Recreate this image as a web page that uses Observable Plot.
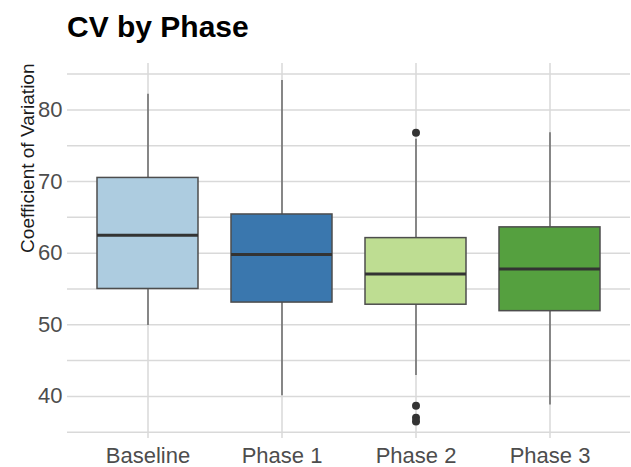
<!DOCTYPE html>
<html>
<head>
<meta charset="utf-8">
<script src="https://cdn.jsdelivr.net/npm/d3@7"></script>
<script src="https://cdn.jsdelivr.net/npm/@observablehq/plot@0.6"></script>
<style>
  body { margin: 0; background: #fff; font-family: "Liberation Sans", Arial, sans-serif; }
  #title { box-sizing: border-box; height: 50px; padding: 12px 0 0 67px; font-size: 30px; line-height: 30px; font-weight: bold; color: #000; }
</style>
</head>
<body>
<div id="title">CV by Phase</div>
<div id="chart"></div>
<script>
const categories = ["Baseline", "Phase 1", "Phase 2", "Phase 3"];
const whiskerLow  = [49.9, 40.1, 42.9, 38.8];
const q1          = [55.0, 53.1, 52.8, 51.9];
const medians     = [62.5, 59.8, 57.1, 57.8];
const q3          = [70.5, 65.4, 62.1, 63.6];
const whiskerHigh = [82.2, 84.1, 75.9, 76.8];
const outlierPhase  = ["Phase 2", "Phase 2", "Phase 2", "Phase 2"];
const outlierValues = [76.8, 38.7, 37.0, 36.5];
const fills = ["#adcce0", "#3a77ae", "#bedd92", "#55a03f"];
const yTicks = [40, 50, 60, 70, 80];
const yGrid = [35, 40, 45, 50, 55, 60, 65, 70, 75, 80, 85];
const yTitle = "Coefficient of Variation";

const boxes = categories.map((c, i) => ({
  phase: c, lo: whiskerLow[i], q1: q1[i], med: medians[i], q3: q3[i], hi: whiskerHigh[i]
}));
const outliers = outlierPhase.map((p, i) => ({ phase: p, value: outlierValues[i] }));

const allVals = [...whiskerLow, ...whiskerHigh, ...outlierValues];
const vmin = d3.min(allVals), vmax = d3.max(allVals);
const pad = (vmax - vmin) * 0.05;

const chart = Plot.plot({
  width: 631,
  height: 417,
  marginTop: 13,
  marginBottom: 29,
  marginLeft: 67,
  marginRight: 1,
  style: { fontFamily: "Liberation Sans, Arial, sans-serif", background: "#fff" },
  x: { domain: categories, type: "band", paddingInner: 0.25, paddingOuter: 0.225, axis: null },
  y: { domain: [vmin - pad, vmax + pad], axis: null },
  color: { domain: categories, range: fills },
  marks: [
    Plot.gridY(yGrid, { stroke: "#d9d9d9", strokeOpacity: 1, strokeWidth: 1.5 }),
    Plot.gridX(categories, { stroke: "#d9d9d9", strokeOpacity: 1, strokeWidth: 1.5 }),
    Plot.ruleX(boxes, { x: "phase", y1: "q3", y2: "hi", stroke: "#555", strokeWidth: 1.3 }),
    Plot.ruleX(boxes, { x: "phase", y1: "lo", y2: "q1", stroke: "#555", strokeWidth: 1.3 }),
    Plot.barY(boxes, { x: "phase", y1: "q1", y2: "q3", fill: "phase", stroke: "#4d4d4d", strokeWidth: 1.5 }),
    Plot.tickY(boxes, { x: "phase", y: "med", stroke: "#333", strokeWidth: 3 }),
    Plot.dot(outliers, { x: "phase", y: "value", r: 4, fill: "#333", stroke: null }),
    Plot.axisX({ tickSize: 0, tickPadding: 9, fontSize: 22, fill: "#4d4d4d", label: null }),
    Plot.axisY(yTicks, { tickSize: 0, tickPadding: 5, fontSize: 22, fill: "#4d4d4d", label: null }),
    Plot.text([yTitle], {
      text: d => d, frameAnchor: "top-left", rotate: -90, textAnchor: "end",
      dx: -47, fontSize: 19, fill: "#1a1a1a"
    })
  ]
});
document.getElementById("chart").appendChild(chart);
</script>
</body>
</html>
